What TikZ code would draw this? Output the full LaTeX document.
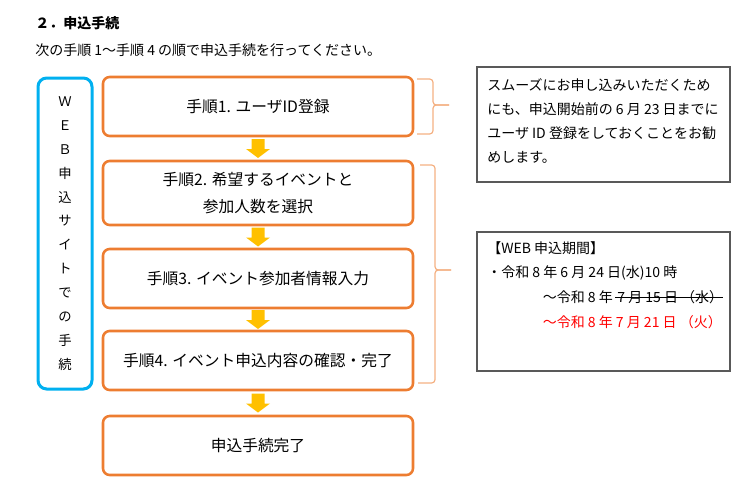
\documentclass[tikz,border=0pt]{standalone}
\usepackage{fontspec}
\setmainfont{Noto Sans CJK JP}
\usetikzlibrary{calc}
\definecolor{237_125_49}{RGB}{237, 125, 49}
\definecolor{0_176_240}{RGB}{0, 176, 240}
\definecolor{255_192_0}{RGB}{255, 192, 0}
\definecolor{244_177_131}{RGB}{244, 177, 131}
\definecolor{89_89_89}{RGB}{89, 89, 89}
\definecolor{255_0_0}{RGB}{255, 0, 0}

\begin{document}
\begin{tikzpicture}[
        x=0.75pt,
        y=-0.75pt,
        stepbox/.style={
            draw=237_125_49,
            line width=1.9pt,
            rounded corners=5pt,
            minimum width=232.5pt,
            minimum height=44.25pt,
            align=center,
            font=\fontsize{11.8}{20.25}\selectfont
        },
        sitebox/.style={
            draw=0_176_240,
            line width=2.25pt,
            rounded corners=6.5pt,
            minimum width=40.5pt,
            minimum height=233.25pt,
            align=center,
            font=\fontsize{10}{17.9}\selectfont
        },
        notebox/.style={draw=89_89_89, line width=1.1pt, minimum width=189.75pt},
        notetext/.style={inner sep=0pt, align=left, font=\fontsize{10.5}{18}\selectfont},
        bracket/.style={draw=244_177_131, line width=0.9pt, rounded corners=2.5pt},
        arrowfill/.style={fill=255_192_0}
    ]
    \useasboundingbox (0,0) rectangle (755,492);

    % heading
    \node[anchor=west, inner sep=0pt, font=\fontsize{10.5}{12}\selectfont\bfseries] (title) at (35,23) {２．申込手続};
    \node[anchor=west, inner sep=0pt, font=\fontsize{10.5}{12}\selectfont] (lead) at (35,50) {次の手順 1～手順 4 の順で申込手続を行ってください。};

    % web site
    \node[sitebox] (site) at (65,233.5) {Ｗ\\Ｅ\\Ｂ\\申\\込\\サ\\イ\\ト\\で\\の\\手\\続};

    % steps
    \node[stepbox] (s1) at (258,106.5) {手順1. ユーザID登録};
    \node[stepbox, minimum height=48pt] (s2) at (258,193) {手順2. 希望するイベントと\\参加人数を選択};
    \node[stepbox] (s3) at (258,278.5) {手順3. イベント参加者情報入力};
    \node[stepbox] (s4) at (258,360.5) {手順4. イベント申込内容の確認・完了};
    \node[stepbox] (s5) at (258,445.5) {申込手続完了};

    \foreach \a/\b in {s1/s2,s2/s3,s3/s4,s4/s5}
        \fill[arrowfill] ($(\a.south)!0.5!(\b.north)$) ++(-6.5,-9.5) -- ++(13,0) -- ++(0,10)
            -- ++(5.5,0) -- ++(-12,9) -- ++(-12,-9) -- ++(5.5,0) -- cycle;

    % brackets
    \draw[bracket] (417,79) -- (433,79) -- (433,105) -- (449,105);
    \draw[bracket] (417,134) -- (433,134) -- (433,105) -- (449,105);
    \draw[bracket] (420,165) -- (435,165) -- (435,270) -- (451,270);
    \draw[bracket] (418,383) -- (435,383) -- (435,270) -- (451,270);

    % notes
    \node[notebox, minimum height=86.25pt] (n1) at (603.5,124.5) {};
    \node[notetext, anchor=north west] (t1) at (487,78) {スムーズにお申し込みいただくため\\にも、申込開始前の 6 月 23 日までに\\ユーザ ID 登録をしておくことをお勧\\めします。};

    \node[notebox, minimum height=104.25pt] (n2) at (603.5,301.5) {};
    \node[notetext, anchor=west] (w1) at (487,248) {【WEB 申込期間】};
    \node[notetext, anchor=west] (w2) at (487,273) {・令和 8 年 6 月 24 日(水)10 時};
    \node[notetext, anchor=west] (w3) at (542.5,297) {～令和 8 年};
    \node[notetext, anchor=west] (w3x) at ($(w3.east)+(4,0)$) {7 月 15 日 （水）};
    \draw[line width=0.75pt] ($(w3x.west)+(-2,0)$) -- (w3x.east);
    \node[notetext, anchor=west, text=255_0_0] (w4) at (542.5,322) {～令和 8 年 7 月 21 日 （火）};
\end{tikzpicture}
\end{document}
